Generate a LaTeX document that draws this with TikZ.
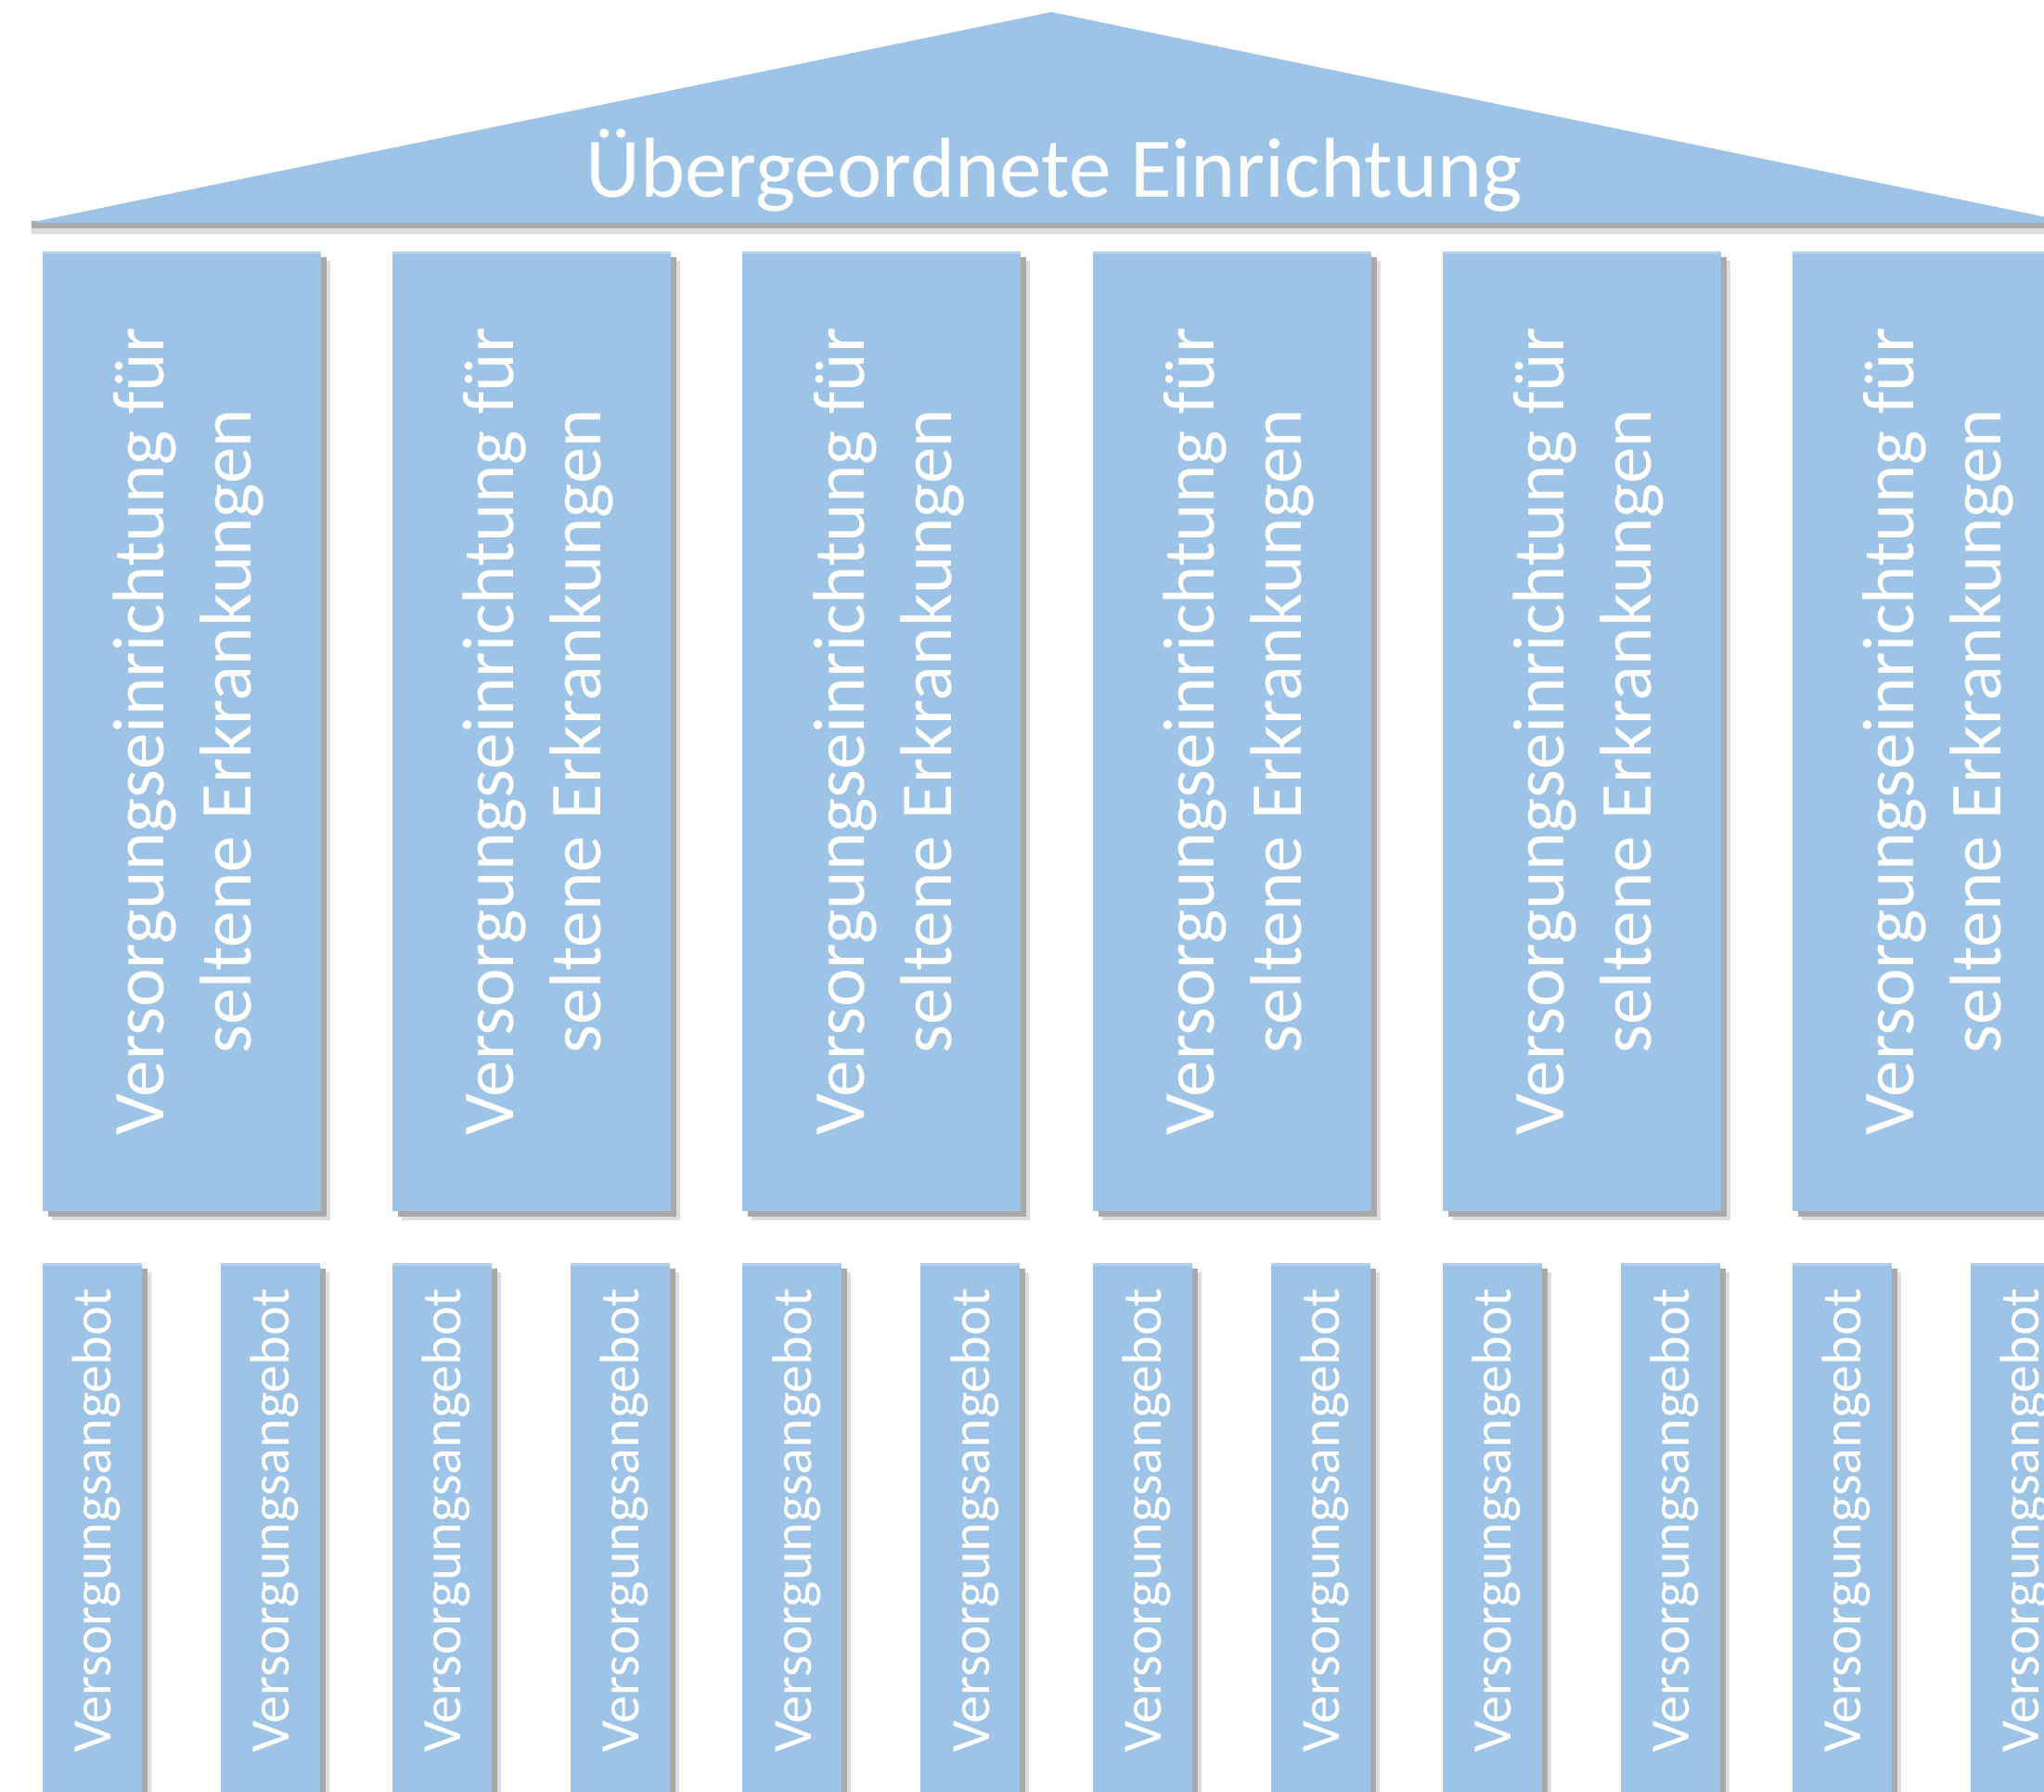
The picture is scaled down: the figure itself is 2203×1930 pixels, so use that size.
\documentclass[tikz,border=0pt]{standalone}
\usepackage{fontspec}
\setmainfont{Carlito}
\usetikzlibrary{shadows}
\definecolor{pblue}{HTML}{9DC3E6}
\definecolor{pedge}{HTML}{B0CFEC}
\definecolor{shdark}{HTML}{A9A9A9}
\definecolor{shlight}{HTML}{DDDDDD}
\begin{document}
\begin{tikzpicture}[x=1pt,y=-1pt,
  box/.style={rectangle, fill=pblue, draw=none, inner sep=0pt, outer sep=0pt, anchor=north west,
    drop shadow={shadow xshift=10pt, shadow yshift=-10pt, fill=shlight, opacity=1},
    drop shadow={shadow xshift=6pt, shadow yshift=-6pt, fill=shdark, opacity=1}},
  bigtxt/.style={text=white, rotate=90, align=center, inner sep=0pt, font=\fontsize{79}{94}\selectfont},
  smalltxt/.style={text=white, rotate=90, inner sep=0pt, font=\fontsize{60}{72}\selectfont},
  rooftxt/.style={text=white, inner sep=0pt, anchor=base, font=\fontsize{91.5}{110}\selectfont}
]
\useasboundingbox (0,0) rectangle (2203,1930);
\clip (0,0) rectangle (2203,1930);
\fill[white] (0,0) rectangle (2203,1930);
% roof shadow
\fill[shlight] (34,244) rectangle (2240,252);
\fill[shdark] (34,238) rectangle (2240,246);
% roof
\path[fill=pblue] (32,240) coordinate (rl) -- (1133,13) coordinate (apex) -- (2234,240) coordinate (rr) -- cycle;
\node[rooftxt] (roof) at (1136,212) {Übergeordnete Einrichtung};
\foreach \i in {0,...,5} {
  \pgfmathsetmacro{\L}{46+377.2*\i}
  \node[box, minimum width=300pt, minimum height=1034pt] (p\i) at (\L,271) {};
  \fill[pedge] (p\i.north west) rectangle ([yshift=-3pt]p\i.north east);
  \node[bigtxt] (t\i) at (\L+157,788) {Versorgungseinrichtung für\\seltene Erkrankungen};
  \node[box, minimum width=107pt, minimum height=620pt] (a\i) at (\L,1361) {};
  \node[box, minimum width=107pt, minimum height=620pt] (b\i) at (\L+192,1361) {};
  \fill[pedge] (a\i.north west) rectangle ([yshift=-3pt]a\i.north east);
  \fill[pedge] (b\i.north west) rectangle ([yshift=-3pt]b\i.north east);
  \node[smalltxt] (ua\i) at (\L+58,1638) {Versorgungsangebot};
  \node[smalltxt] (ub\i) at (\L+250,1638) {Versorgungsangebot};
}
\end{tikzpicture}
\end{document}
